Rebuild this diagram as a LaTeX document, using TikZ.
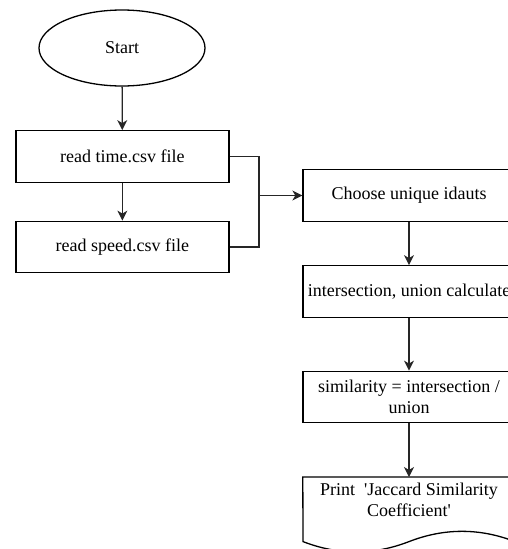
\documentclass[tikz,border=0pt]{standalone}
\usepackage{fontspec}
\setmainfont{Liberation Serif}
\usetikzlibrary{arrows.meta,shapes.geometric}

\tikzset{
	caixa/.style={draw, line width=1.3pt, minimum width=213pt, minimum height=51.5pt,
		inner sep=0pt, align=center, font=\fontsize{18}{21}\selectfont},
	seta/.style={line width=1.3pt, draw=black!85,
		-{Stealth[length=10pt,width=10pt,inset=3pt]}},
	linha/.style={line width=1.3pt, draw=black!85},
}

\begin{document}
\begin{tikzpicture}[x=1pt,y=-1pt]
	\useasboundingbox (0,0) rectangle (508,549);
	\clip (0,0) rectangle (508,549);

% coluna da esquerda
	\node[ellipse, draw, line width=1.3pt, minimum width=166pt, minimum height=76pt,
		inner sep=0pt, font=\fontsize{18}{21}\selectfont] (inicio) at (122,48) {Start};
	\node[caixa] (tempo) at (122.4,156.5) {read time.csv file};
	\node[caixa] (velocidade) at (122.4,247) {read speed.csv file};
	\draw[seta] (inicio) -- (tempo);
	\draw[seta] (tempo) -- (velocidade);

% coluna da direita
	\node[caixa, minimum width=212pt] (ids) at (409,195.5) {Choose unique idauts};
	\node[caixa, minimum width=212pt] (calculo) at (409,291.5) {intersection, union calculate};
	\node[caixa, minimum width=212pt] (similaridade) at (409,397) {similarity = intersection /\\union};
	\node[anchor=north, minimum width=212pt, inner xsep=0pt, inner ysep=6pt,
		align=center, font=\fontsize{18}{21}\selectfont] (imprime) at (409,477)
		{Print\ \ \textquotesingle Jaccard Similarity\\Coefficient\textquotesingle};
	\draw[line width=1.3pt] (imprime.north west) -- (imprime.north east) -- (515,541.6)
		.. controls (479.7,527.9) and (444.3,527.9) .. (409,541.6)
		.. controls (373.7,555.3) and (338.3,555.3) .. (303,541.6) -- cycle;

% ligacoes
	\coordinate (juncao) at (259,195.5);
	\draw[linha] (tempo.east) -| (juncao);
	\draw[linha] (velocidade.east) -| (juncao);
	\draw[seta] (juncao) -- (ids.west);
	\draw[seta] (ids) -- (calculo);
	\draw[seta] (calculo) -- (similaridade);
	\draw[seta] (similaridade) -- (imprime.north);
\end{tikzpicture}
\end{document}
